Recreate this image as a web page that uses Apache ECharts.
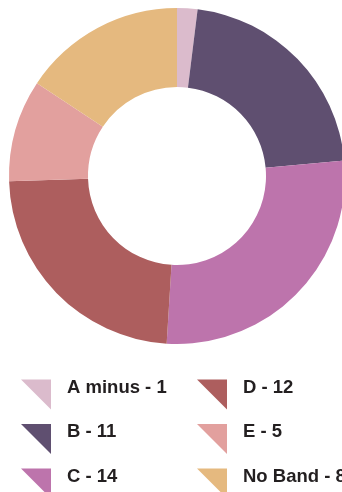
<!DOCTYPE html>
<html>
<head>
<meta charset="utf-8">
<script src="https://cdn.jsdelivr.net/npm/echarts@6/dist/echarts.min.js"></script>
<style>
  html, body { margin: 0; padding: 0; background: #fff; }
  #chart { width: 342px; height: 492px; }
</style>
</head>
<body>
<div id="chart"></div>
<script>
// Bands and their counts, drawn clockwise from twelve o'clock
const bands = ['A minus', 'B', 'C', 'D', 'E', 'No Band'];
const counts = [1, 11, 14, 12, 5, 8];
const colors = ['#dbbbcc', '#5f4f70', '#bd74ac', '#ad5e5e', '#e2a09e', '#e5b97f'];

const leftColumn = bands.slice(0, 3);
const rightColumn = bands.slice(3);

const countOf = name => counts[bands.indexOf(name)];

const legendBase = {
  orient: 'vertical',
  top: 378,
  height: 130,
  padding: 0,
  itemWidth: 30,
  itemHeight: 30,
  itemGap: 13,
  icon: 'path://M0,0 L10,0 L10,10 Z',
  // label sits a little above the middle of its triangle
  formatter: name => '{t|' + name + ' - ' + countOf(name) + '}',
  textStyle: {
    rich: {
      t: {
        fontFamily: 'Liberation Sans, Arial, sans-serif',
        fontWeight: 'bold',
        fontSize: 18.5,
        color: '#231f20',
        padding: [0, 0, 14, 11]
      }
    }
  }
};

const chart = echarts.init(document.getElementById('chart'), null, { renderer: 'canvas' });
chart.setOption({
  animation: false,
  color: colors,
  legend: [
    Object.assign({}, legendBase, { left: 21, data: leftColumn }),
    Object.assign({}, legendBase, { left: 197, data: rightColumn })
  ],
  series: [{
    type: 'pie',
    center: [177, 176],
    radius: [89, 168],
    startAngle: 90,
    clockwise: true,
    label: { show: false },
    labelLine: { show: false },
    emphasis: { disabled: true },
    itemStyle: { borderWidth: 0 },
    data: bands.map((b, i) => ({ name: b, value: counts[i] }))
  }]
});
</script>
</body>
</html>
